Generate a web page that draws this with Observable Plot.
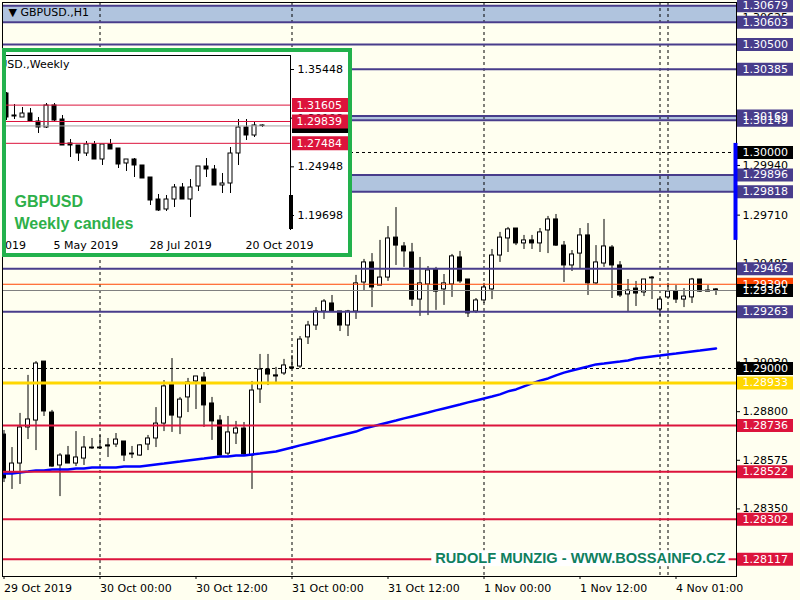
<!DOCTYPE html>
<html><head><meta charset="utf-8">
<script src="https://cdn.jsdelivr.net/npm/d3@7"></script>
<script src="https://cdn.jsdelivr.net/npm/@observablehq/plot@0.6"></script>
<style>
body{margin:0;background:#FFFFF0;}
#wrap{position:relative;width:800px;height:600px;overflow:hidden;background:#FFFFF0;}
#inset{position:absolute;left:2px;top:48px;width:342px;height:201px;border:4px solid #22B14C;background:#fff;overflow:hidden;}
</style></head><body>
<div id="wrap"><div id="main"></div><div id="inset"></div></div>
<script>
// ---------- H1 candles (bar index 0 = 29 Oct 12:00) ----------
const opens = [1.28694,1.28514,1.28560,1.28727,1.28759,1.29032,1.28796,1.28551,1.28597,1.28560,1.28583,1.28634,1.28634,1.28644,1.28648,1.28662,1.28606,1.28597,1.28648,1.28676,1.28745,1.28926,1.28773,1.28866,1.28940,1.28958,1.28838,1.28759,1.28606,1.28699,1.28722,1.28597,1.28903,1.28995,1.28968,1.28977,1.29005,1.29009,1.29144,1.29199,1.29264,1.29301,1.29264,1.29199,1.29264,1.29398,1.29491,1.29384,1.29421,1.29606,1.29565,1.29537,1.29319,1.29389,1.29458,1.29366,1.29389,1.29514,1.29412,1.29264,1.29315,1.29366,1.29523,1.29602,1.29648,1.29579,1.29593,1.29579,1.29639,1.29690,1.29569,1.29477,1.29532,1.29616,1.29394,1.29486,1.29560,1.29477,1.29343,1.29370,1.29352,1.29417,1.29273,1.29329,1.29356,1.29319,1.29329,1.29412,1.29361,1.29366];
const highs = [1.28713,1.28634,1.28792,1.28968,1.29032,1.29032,1.28806,1.28606,1.28639,1.28708,1.28685,1.28676,1.28690,1.28676,1.28699,1.28662,1.28639,1.28648,1.28690,1.28819,1.28944,1.29046,1.28866,1.28954,1.28963,1.28981,1.28866,1.28782,1.28778,1.28755,1.28750,1.28940,1.29065,1.29065,1.29005,1.29042,1.29060,1.29148,1.29218,1.29282,1.29319,1.29338,1.29264,1.29269,1.29431,1.29505,1.29532,1.29593,1.29657,1.29745,1.29583,1.29579,1.29514,1.29472,1.29468,1.29435,1.29528,1.29542,1.29412,1.29324,1.29394,1.29551,1.29630,1.29653,1.29648,1.29616,1.29616,1.29648,1.29704,1.29713,1.29588,1.29546,1.29648,1.29671,1.29569,1.29690,1.29569,1.29495,1.29412,1.29403,1.29412,1.29426,1.29329,1.29394,1.29384,1.29370,1.29417,1.29412,1.29384,1.29370];
const lows = [1.28472,1.28440,1.28463,1.28671,1.28620,1.28778,1.28542,1.28407,1.28560,1.28546,1.28551,1.28625,1.28625,1.28588,1.28634,1.28569,1.28583,1.28593,1.28620,1.28634,1.28708,1.28704,1.28694,1.28796,1.28810,1.28727,1.28667,1.28588,1.28597,1.28648,1.28593,1.28440,1.28838,1.28921,1.28931,1.28968,1.28995,1.29000,1.29111,1.29176,1.29227,1.29264,1.29171,1.29148,1.29227,1.29361,1.29282,1.29384,1.29403,1.29477,1.29468,1.29287,1.29241,1.29245,1.29269,1.29292,1.29329,1.29394,1.29236,1.29255,1.29301,1.29319,1.29491,1.29537,1.29569,1.29551,1.29551,1.29537,1.29532,1.29565,1.29398,1.29449,1.29458,1.29338,1.29389,1.29468,1.29324,1.29329,1.29264,1.29287,1.29333,1.29319,1.29241,1.29324,1.29301,1.29282,1.29301,1.29352,1.29356,1.29338];
const closes = [1.28491,1.28560,1.28727,1.28764,1.29023,1.28801,1.28546,1.28597,1.28560,1.28588,1.28634,1.28630,1.28630,1.28639,1.28671,1.28597,1.28602,1.28644,1.28676,1.28745,1.28917,1.28782,1.28856,1.28935,1.28963,1.28829,1.28755,1.28597,1.28704,1.28722,1.28602,1.28898,1.28995,1.28972,1.28963,1.29014,1.29000,1.29134,1.29199,1.29264,1.29310,1.29264,1.29199,1.29264,1.29394,1.29491,1.29375,1.29421,1.29602,1.29569,1.29542,1.29319,1.29394,1.29454,1.29356,1.29394,1.29519,1.29403,1.29255,1.29315,1.29375,1.29523,1.29606,1.29644,1.29579,1.29593,1.29579,1.29630,1.29690,1.29569,1.29477,1.29528,1.29616,1.29394,1.29491,1.29565,1.29477,1.29338,1.29361,1.29347,1.29412,1.29421,1.29319,1.29356,1.29319,1.29333,1.29412,1.29356,1.29356,1.29361];
const maValues = [1.28514,1.28514,1.28519,1.28523,1.28528,1.28528,1.28532,1.28532,1.28532,1.28537,1.28537,1.28542,1.28542,1.28542,1.28542,1.28546,1.28546,1.28546,1.28551,1.28556,1.28560,1.28565,1.28569,1.28574,1.28579,1.28583,1.28588,1.28593,1.28593,1.28597,1.28597,1.28602,1.28606,1.28611,1.28616,1.28625,1.28634,1.28644,1.28653,1.28662,1.28671,1.28681,1.28690,1.28699,1.28708,1.28722,1.28731,1.28741,1.28750,1.28759,1.28769,1.28778,1.28787,1.28796,1.28806,1.28815,1.28824,1.28833,1.28843,1.28852,1.28861,1.28870,1.28880,1.28894,1.28903,1.28917,1.28931,1.28944,1.28954,1.28968,1.28981,1.28991,1.29000,1.29009,1.29019,1.29023,1.29028,1.29032,1.29037,1.29046,1.29051,1.29056,1.29060,1.29065,1.29069,1.29074,1.29079,1.29083,1.29088,1.29093];

const xTickIdx = [0,12,24,36,48,60,72,84];
const xTickLabels = ["29 Oct 2019","30 Oct 00:00","30 Oct 12:00","31 Oct 00:00","31 Oct 12:00","1 Nov 00:00","1 Nov 12:00","4 Nov 01:00"];
const separatorIdx = [12,36,60,82,83];
const yTicks = [1.28350,1.28575,1.28800,1.29030,1.29255,1.29485,1.29710,1.29940,1.30165,1.30395,1.30625];

const bandLow = [1.30603,1.30149,1.29818];
const bandHigh = [1.30679,1.30169,1.29896];
const dashedLevels = [1.30000,1.29000];
const levelPrices = [1.30679,1.30603,1.30500,1.30385,1.30169,1.30149,1.29896,1.29818,1.29462,1.29263,1.29390,1.29361,1.28933,1.28736,1.28522,1.28302,1.28117];
const levelColors = ["#483D8B","#483D8B","#483D8B","#483D8B","#483D8B","#483D8B","#483D8B","#483D8B","#483D8B","#483D8B","#FF4500","#808080","#FFD700","#DC143C","#DC143C","#DC143C","#DC143C"];
const levelWidths = [2,2,2,2,2,2,2,2,2,2,1,1,3,2,2,2,2];
const tagPrices = [1.30149,1.30169,1.30603,1.30679,1.30500,1.30385,1.30000,1.29896,1.29818,1.29462,1.29390,1.29361,1.29263,1.29000,1.28933,1.28736,1.28522,1.28302,1.28117];
const tagColors = ["#483D8B","#483D8B","#483D8B","#483D8B","#483D8B","#483D8B","#000000","#483D8B","#483D8B","#483D8B","#FF4500","#000000","#483D8B","#000000","#FFD700","#DC143C","#DC143C","#DC143C","#DC143C"];
const rangeBar = [{y1:1.30042, y2:1.29593}];

// ---------- Weekly inset (bar index 0 = 24 Mar 2019) ----------
const wOpen = [1.32859,1.30486,1.30270,1.30701,1.29838,1.29191,1.31564,1.30054,1.27465,1.27249,1.26386,1.27357,1.25739,1.27357,1.26926,1.25308,1.25739,1.25092,1.23797,1.21424,1.20345,1.21424,1.22719,1.21424,1.22827,1.24984,1.24660,1.22934,1.23150,1.26386,1.29191,1.28328,1.29407];
const wClose = [1.30270,1.30378,1.30701,1.29838,1.29191,1.31564,1.29946,1.27249,1.27249,1.26386,1.27357,1.25739,1.27357,1.26818,1.25200,1.25739,1.25092,1.23690,1.21316,1.20238,1.21424,1.22719,1.21424,1.22719,1.24984,1.24660,1.22934,1.23150,1.26386,1.29191,1.28328,1.29407,1.29353];
const wHigh = [1.32967,1.31672,1.31349,1.31241,1.30270,1.31780,1.31780,1.30486,1.27897,1.27249,1.27681,1.27681,1.27357,1.27897,1.26926,1.25739,1.25847,1.25092,1.23797,1.21964,1.21856,1.23042,1.23150,1.23582,1.24984,1.25847,1.25092,1.24229,1.27034,1.30054,1.30054,1.29731,1.29461];
const wLow = [1.29946,1.30054,1.30270,1.29838,1.28544,1.29083,1.29838,1.27249,1.25955,1.25523,1.26063,1.25739,1.25092,1.26818,1.24768,1.24445,1.23797,1.23690,1.20777,1.20130,1.20130,1.20561,1.21424,1.19482,1.22287,1.23797,1.22934,1.22071,1.22071,1.25092,1.27789,1.28112,1.29191];
const wTickIdx = [-6,6,18,30];
const wTickLabels = ["10 Feb 2019","5 May 2019","28 Jul 2019","20 Oct 2019"];
const wYTicks = [1.35448,1.30198,1.24948,1.19698];
const wLevels = [1.31605,1.29839,1.27484];
const wCurrent = 1.29361;
const wRangeBar = [{y1:1.21856, y2:1.18188}];

const FONT = "DejaVu Sans, sans-serif";
const watermark = "RUDOLF MUNZIG - WWW.BOSSAINFO.CZ";

// ---------- main chart ----------
const candles = opens.map((o,i)=>({i, o, h: highs[i], l: lows[i], c: closes[i]}));
const bands = bandLow.map((lo,i)=>({lo, hi: bandHigh[i]}));
const xDom = [-0.1875, 91.5625];
const yDom = [1.28037, 1.306944];

const mainSvg = Plot.plot({
  width: 800, height: 600,
  marginLeft: 2, marginRight: 64, marginTop: 2, marginBottom: 24,
  style: {background: "#FFFFF0", fontFamily: FONT, fontSize: "11px", color: "black", overflow: "visible"},
  x: {domain: xDom, axis: null},
  y: {domain: yDom, axis: null},
  color: {type: "identity"},
  marks: [
    Plot.rect(bands, {x1: () => xDom[0], x2: () => xDom[1], y1: "lo", y2: "hi", fill: "#B0C4DE"}),
    Plot.ruleX(separatorIdx, {x: d => d, stroke: "black", strokeDasharray: "3,3"}),
    Plot.ruleY(dashedLevels, {y: d => d, stroke: "black", strokeDasharray: "3,3"}),
    Plot.ruleX(candles, {x: "i", y1: "l", y2: "h", stroke: "black", clip: true}),
    Plot.rect(candles, {x1: d => d.i - 0.25, x2: d => d.i + 0.25, y1: "o", y2: "c",
      fill: d => d.c >= d.o ? "white" : "black", stroke: "black", clip: true}),
    Plot.line(maValues, {x: (d,i) => i, y: d => d, stroke: "#0000FF", strokeWidth: 2.5, clip: true}),
    Plot.ruleY(levelPrices, {y: d => d, stroke: (d,i) => levelColors[i], strokeWidth: (d,i) => levelWidths[i]}),
    Plot.frame({stroke: "black"}),
    // y axis ticks and labels
    Plot.ruleY(yTicks, {y: d => d, stroke: "black", insetLeft: 734, insetRight: -4}),
    Plot.text(yTicks, {y: d => d, text: d => d.toFixed(5), frameAnchor: "right", textAnchor: "start", lineAnchor: "middle", dx: 6, fill: "black"}),
    // price tags
    Plot.ruleY(tagPrices, {y: d => d, stroke: (d,i) => tagColors[i], strokeWidth: 13, insetLeft: 735, insetRight: -57}),
    Plot.text(tagPrices, {y: d => d, text: d => d.toFixed(5), frameAnchor: "right", textAnchor: "start", lineAnchor: "middle", dx: 6, fill: "white"}),
    Plot.ruleX(rangeBar, {x: () => xDom[1], y1: "y1", y2: "y2", stroke: "#0000FF", strokeWidth: 4, dx: -1}),
    // x axis
    Plot.ruleX(xTickIdx, {x: d => d, stroke: "black", insetTop: 574, insetBottom: -3}),
    Plot.text(xTickIdx, {x: d => d, text: (d,i) => xTickLabels[i], frameAnchor: "bottom", textAnchor: "start", lineAnchor: "middle", dy: 12, dx: 0, fill: "black"}),
    // title and watermark
    Plot.text(["\u25BC GBPUSD.,H1"], {frameAnchor: "top-left", textAnchor: "start", lineAnchor: "middle", dx: 6, dy: 10, fill: "black"}),
    Plot.text([watermark], {frameAnchor: "bottom-right", textAnchor: "end", lineAnchor: "middle", dx: -11, dy: -18,
      fill: "#0F8060", fontWeight: "bold", fontFamily: "Liberation Sans, Arial, sans-serif", fontSize: 14.6})
  ]
});
document.getElementById("main").append(mainSvg);

// white box behind the watermark text
d3.select(mainSvg).selectAll("text").filter(function(){ return this.textContent === watermark; }).each(function(){
  const bb = this.getBBox();
  const r = d3.select(this.parentNode).insert("rect", () => this)
    .attr("x", bb.x - 4).attr("y", bb.y).attr("width", bb.width + 7).attr("height", bb.height)
    .attr("fill", "white");
  const t = this.getAttribute("transform");
  if (t) r.attr("transform", t);
});

// ---------- weekly inset ----------
const wk = wOpen.map((o,i)=>({i, o, h: wHigh[i], l: wLow[i], c: wClose[i]}));
const ixDom = [0, 35.5];
const iyDom = [1.18080, 1.369583];
const insetSvg = Plot.plot({
  width: 342, height: 201,
  marginLeft: 0, marginRight: 58, marginTop: 3, marginBottom: 23,
  style: {background: "white", fontFamily: FONT, fontSize: "11px", color: "black", overflow: "visible"},
  x: {domain: ixDom, axis: null},
  y: {domain: iyDom, axis: null},
  color: {type: "identity"},
  marks: [
    Plot.ruleX(wk, {x: "i", y1: "l", y2: "h", stroke: "black", clip: true}),
    Plot.rect(wk, {x1: d => d.i - 0.25, x2: d => d.i + 0.25, y1: "o", y2: "c",
      fill: d => d.c >= d.o ? "white" : "black", stroke: "black", clip: true}),
    Plot.ruleY([wCurrent], {y: d => d, stroke: "#A0A0A0"}),
    Plot.ruleY(wLevels, {y: d => d, stroke: "#DC143C"}),
    Plot.ruleY([iyDom[1]], {y: d => d, stroke: "black"}),
    Plot.ruleX([ixDom[1]], {x: d => d, stroke: "black"}),
    Plot.ruleY(wYTicks, {y: d => d, stroke: "black", insetLeft: 284, insetRight: -4}),
    Plot.text(wYTicks, {y: d => d, text: d => d.toFixed(5), frameAnchor: "right", textAnchor: "start", lineAnchor: "middle", dx: 7, fill: "black"}),
    Plot.ruleX(wRangeBar, {x: () => ixDom[1], y1: "y1", y2: "y2", stroke: "black", strokeWidth: 4, dx: 0.5}),
    Plot.ruleY([wCurrent], {y: d => d, stroke: "black", strokeWidth: 14, insetLeft: 286, insetRight: -58}),
    Plot.ruleY(wLevels, {y: d => d, stroke: "#DC143C", strokeWidth: 14, insetLeft: 286, insetRight: -58}),
    Plot.text(wLevels, {y: d => d, text: d => d.toFixed(5), frameAnchor: "right", textAnchor: "start", lineAnchor: "middle", dx: 6, fill: "white"}),
    Plot.text(wTickIdx, {x: d => d, text: (d,i) => wTickLabels[i], frameAnchor: "bottom", textAnchor: "start", lineAnchor: "middle", dy: 15, dx: -1, fill: "black"}),
    Plot.text(["GBPUSD.,Weekly"], {frameAnchor: "top-left", textAnchor: "start", lineAnchor: "middle", dx: -30, dy: 9, fill: "black"}),
    Plot.text(["GBPUSD"], {frameAnchor: "top-left", textAnchor: "start", lineAnchor: "middle", dx: 8, dy: 146,
      fill: "#2EB04A", fontWeight: "bold", fontFamily: "Liberation Sans, Arial, sans-serif", fontSize: 16}),
    Plot.text(["Weekly candles"], {frameAnchor: "top-left", textAnchor: "start", lineAnchor: "middle", dx: 8, dy: 168,
      fill: "#2EB04A", fontWeight: "bold", fontFamily: "Liberation Sans, Arial, sans-serif", fontSize: 16})
  ]
});
document.getElementById("inset").append(insetSvg);
</script>
</body></html>
